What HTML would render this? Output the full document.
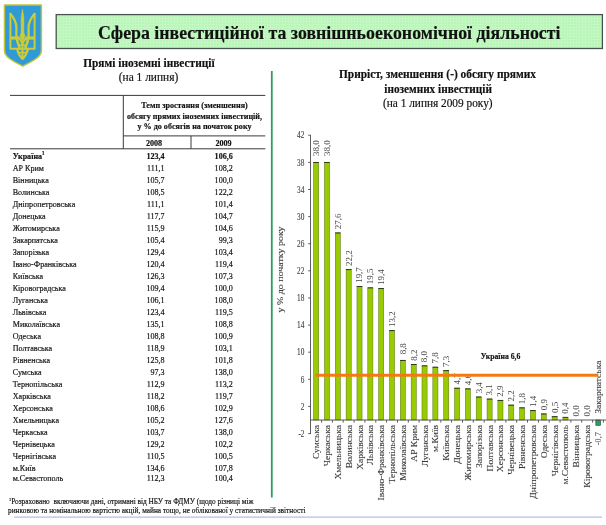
<!DOCTYPE html>
<html lang="uk"><head><meta charset="utf-8"><title>Сфера інвестиційної та зовнішньоекономічної діяльності</title>
<style>
html,body{margin:0;padding:0;background:#fff;}
body{width:606px;height:525px;overflow:hidden;position:relative;}
svg{position:absolute;left:0;top:0;display:block;filter:blur(0.35px);}
text{font-family:"Liberation Serif","DejaVu Serif",serif;fill:#111;stroke:#111;stroke-width:0.18px;}
.ch{stroke:#3c3c3c;stroke-width:0.12px;}
.vl{stroke:none;}
.b{font-weight:bold;}
.m{text-anchor:middle;}
.e{text-anchor:end;}
.t8{font-size:8.1px;}
.ch{fill:#3c3c3c;}
.vl{fill:#464646;}
</style></head><body>
<svg width="606" height="525" viewBox="0 0 606 525">
<defs>
<pattern id="grid" width="3" height="3" patternUnits="userSpaceOnUse"><rect width="3" height="3" fill="#b9f5b9"/><path d="M0 0.5H3M0.5 0V3" stroke="#c3f8c3" stroke-width="1"/></pattern>
<linearGradient id="bar" x1="0" x2="1" y1="0" y2="0"><stop offset="0" stop-color="#8fc400"/><stop offset="0.5" stop-color="#9fd200"/><stop offset="1" stop-color="#8cbf00"/></linearGradient>
</defs>
<g id="gerb">
<path d="M4.5 5 L41.4 5 L41.4 50.5 C41.4 56.5 35 60 22.8 66.2 C10.5 60 4.5 56.5 4.5 50.5 Z" fill="#2f9ad6" stroke="#c2c43c" stroke-width="1.5" stroke-linejoin="round"/>
<g fill="none" stroke="#cbcb38" stroke-width="2" stroke-linecap="round" stroke-linejoin="round">
<path d="M10.4 13.8 V48.8 H34.6 V13.8"/>
<path stroke-width="2.3" d="M10.6 14 C13 17 16.4 22 16.4 27 V37.5"/>
<path stroke-width="2.3" d="M34.4 14 C32 17 28.6 22 28.6 27 V37.5"/>
<path d="M10.4 38 H19.6" stroke-width="3.2" stroke-linecap="butt"/>
<path d="M34.6 38 H25.4" stroke-width="3.2" stroke-linecap="butt"/>
<path stroke-width="2.6" d="M17 39 C17.4 43 19.2 44.6 19.6 48.8"/>
<path stroke-width="2.6" d="M28 39 C27.6 43 25.8 44.6 25.4 48.8"/>
<path d="M19.4 38.4 L22.5 43.6 L25.6 38.4"/>
<path stroke-width="2.2" d="M17.2 49.2 C18 53.5 20.4 56.8 22.5 59 C24.6 56.8 27 53.5 27.8 49.2"/>
<path stroke-width="2" d="M22.5 42 V58.4"/>
<path stroke-width="1.8" d="M19.3 52.6 H25.7"/>
<path stroke-width="1.8" d="M19.4 46 C20.6 44.6 24.4 44.6 25.6 46"/>
</g>
<path d="M22.5 9 L23.9 17.5 V32.6 L25 36 L22.5 42 L20 36 L21.1 32.6 V17.5 Z" fill="#cbcb38" stroke="#cbcb38" stroke-width="0.5" stroke-linejoin="round"/>
</g>
<rect x="56.2" y="14.6" width="546.2" height="33.9" fill="url(#grid)" stroke="#46544c" stroke-width="1.3"/>
<text class="b" x="97.9" y="38.8" font-size="19.2" textLength="462.6" lengthAdjust="spacingAndGlyphs" fill="#000">Сфера інвестиційної та зовнішньоекономічної діяльності</text>
<text class="b" x="83.2" y="66.5" font-size="12" textLength="131.4" lengthAdjust="spacingAndGlyphs">Прямі іноземні інвестиції</text>
<text x="118.8" y="80.5" font-size="12" textLength="59.4" lengthAdjust="spacingAndGlyphs">(на 1 липня)</text>
<g stroke="#3a3a3a" stroke-width="1" fill="none">
<path d="M10 95.4H265.3"/>
<path d="M123.3 95.4V148.8"/>
<path d="M123.3 135.9H265.3"/>
<path d="M191 135.9V148.8"/>
<path d="M10 148.8H265.3"/>
</g>
<text class="b m" transform="translate(194.5 108.0) scale(0.947 1)" font-size="8.55">Темп зростання (зменшення)</text>
<text class="b m" transform="translate(194.5 118.6) scale(0.947 1)" font-size="8.55">обсягу прямих іноземних інвестицій,</text>
<text class="b m" transform="translate(194.5 129.2) scale(0.947 1)" font-size="8.55">у % до обсягів на початок року</text>
<text class="b" transform="translate(146 146) scale(0.947 1)" font-size="8.55">2008</text>
<text class="b" transform="translate(215.5 146) scale(0.947 1)" font-size="8.55">2009</text>
<text class="b" transform="translate(12.7 158.5) scale(0.947 1)" font-size="8.55">Україна<tspan font-size="5.2" dy="-3.5">1</tspan></text>
<text class="b e" transform="translate(164.6 158.5) scale(0.947 1)" font-size="8.55">123,4</text>
<text class="b e" transform="translate(232.8 158.5) scale(0.947 1)" font-size="8.55">106,6</text>
<text transform="translate(12.7 170.5) scale(0.947 1)" font-size="8.55">АР Крим</text>
<text class="e" transform="translate(164.6 170.5) scale(0.947 1)" font-size="8.55">111,1</text>
<text class="e" transform="translate(232.8 170.5) scale(0.947 1)" font-size="8.55">108,2</text>
<text transform="translate(12.7 182.5) scale(0.947 1)" font-size="8.55">Вінницька</text>
<text class="e" transform="translate(164.6 182.5) scale(0.947 1)" font-size="8.55">105,7</text>
<text class="e" transform="translate(232.8 182.5) scale(0.947 1)" font-size="8.55">100,0</text>
<text transform="translate(12.7 194.5) scale(0.947 1)" font-size="8.55">Волинська</text>
<text class="e" transform="translate(164.6 194.5) scale(0.947 1)" font-size="8.55">108,5</text>
<text class="e" transform="translate(232.8 194.5) scale(0.947 1)" font-size="8.55">122,2</text>
<text transform="translate(12.7 206.5) scale(0.947 1)" font-size="8.55">Дніпропетровська</text>
<text class="e" transform="translate(164.6 206.5) scale(0.947 1)" font-size="8.55">111,1</text>
<text class="e" transform="translate(232.8 206.5) scale(0.947 1)" font-size="8.55">101,4</text>
<text transform="translate(12.7 218.5) scale(0.947 1)" font-size="8.55">Донецька</text>
<text class="e" transform="translate(164.6 218.5) scale(0.947 1)" font-size="8.55">117,7</text>
<text class="e" transform="translate(232.8 218.5) scale(0.947 1)" font-size="8.55">104,7</text>
<text transform="translate(12.7 230.5) scale(0.947 1)" font-size="8.55">Житомирська</text>
<text class="e" transform="translate(164.6 230.5) scale(0.947 1)" font-size="8.55">115,9</text>
<text class="e" transform="translate(232.8 230.5) scale(0.947 1)" font-size="8.55">104,6</text>
<text transform="translate(12.7 242.5) scale(0.947 1)" font-size="8.55">Закарпатська</text>
<text class="e" transform="translate(164.6 242.5) scale(0.947 1)" font-size="8.55">105,4</text>
<text class="e" transform="translate(232.8 242.5) scale(0.947 1)" font-size="8.55">99,3</text>
<text transform="translate(12.7 254.5) scale(0.947 1)" font-size="8.55">Запорізька</text>
<text class="e" transform="translate(164.6 254.5) scale(0.947 1)" font-size="8.55">129,4</text>
<text class="e" transform="translate(232.8 254.5) scale(0.947 1)" font-size="8.55">103,4</text>
<text transform="translate(12.7 266.5) scale(0.947 1)" font-size="8.55">Івано-Франківська</text>
<text class="e" transform="translate(164.6 266.5) scale(0.947 1)" font-size="8.55">120,4</text>
<text class="e" transform="translate(232.8 266.5) scale(0.947 1)" font-size="8.55">119,4</text>
<text transform="translate(12.7 278.5) scale(0.947 1)" font-size="8.55">Київська</text>
<text class="e" transform="translate(164.6 278.5) scale(0.947 1)" font-size="8.55">126,3</text>
<text class="e" transform="translate(232.8 278.5) scale(0.947 1)" font-size="8.55">107,3</text>
<text transform="translate(12.7 290.5) scale(0.947 1)" font-size="8.55">Кіровоградська</text>
<text class="e" transform="translate(164.6 290.5) scale(0.947 1)" font-size="8.55">109,4</text>
<text class="e" transform="translate(232.8 290.5) scale(0.947 1)" font-size="8.55">100,0</text>
<text transform="translate(12.7 302.5) scale(0.947 1)" font-size="8.55">Луганська</text>
<text class="e" transform="translate(164.6 302.5) scale(0.947 1)" font-size="8.55">106,1</text>
<text class="e" transform="translate(232.8 302.5) scale(0.947 1)" font-size="8.55">108,0</text>
<text transform="translate(12.7 314.5) scale(0.947 1)" font-size="8.55">Львівська</text>
<text class="e" transform="translate(164.6 314.5) scale(0.947 1)" font-size="8.55">123,4</text>
<text class="e" transform="translate(232.8 314.5) scale(0.947 1)" font-size="8.55">119,5</text>
<text transform="translate(12.7 326.5) scale(0.947 1)" font-size="8.55">Миколаївська</text>
<text class="e" transform="translate(164.6 326.5) scale(0.947 1)" font-size="8.55">135,1</text>
<text class="e" transform="translate(232.8 326.5) scale(0.947 1)" font-size="8.55">108,8</text>
<text transform="translate(12.7 338.5) scale(0.947 1)" font-size="8.55">Одеська</text>
<text class="e" transform="translate(164.6 338.5) scale(0.947 1)" font-size="8.55">108,8</text>
<text class="e" transform="translate(232.8 338.5) scale(0.947 1)" font-size="8.55">100,9</text>
<text transform="translate(12.7 350.5) scale(0.947 1)" font-size="8.55">Полтавська</text>
<text class="e" transform="translate(164.6 350.5) scale(0.947 1)" font-size="8.55">118,9</text>
<text class="e" transform="translate(232.8 350.5) scale(0.947 1)" font-size="8.55">103,1</text>
<text transform="translate(12.7 362.5) scale(0.947 1)" font-size="8.55">Рівненська</text>
<text class="e" transform="translate(164.6 362.5) scale(0.947 1)" font-size="8.55">125,8</text>
<text class="e" transform="translate(232.8 362.5) scale(0.947 1)" font-size="8.55">101,8</text>
<text transform="translate(12.7 374.5) scale(0.947 1)" font-size="8.55">Сумська</text>
<text class="e" transform="translate(164.6 374.5) scale(0.947 1)" font-size="8.55">97,3</text>
<text class="e" transform="translate(232.8 374.5) scale(0.947 1)" font-size="8.55">138,0</text>
<text transform="translate(12.7 386.5) scale(0.947 1)" font-size="8.55">Тернопільська</text>
<text class="e" transform="translate(164.6 386.5) scale(0.947 1)" font-size="8.55">112,9</text>
<text class="e" transform="translate(232.8 386.5) scale(0.947 1)" font-size="8.55">113,2</text>
<text transform="translate(12.7 398.5) scale(0.947 1)" font-size="8.55">Харківська</text>
<text class="e" transform="translate(164.6 398.5) scale(0.947 1)" font-size="8.55">118,2</text>
<text class="e" transform="translate(232.8 398.5) scale(0.947 1)" font-size="8.55">119,7</text>
<text transform="translate(12.7 410.5) scale(0.947 1)" font-size="8.55">Херсонська</text>
<text class="e" transform="translate(164.6 410.5) scale(0.947 1)" font-size="8.55">108,6</text>
<text class="e" transform="translate(232.8 410.5) scale(0.947 1)" font-size="8.55">102,9</text>
<text transform="translate(12.7 422.5) scale(0.947 1)" font-size="8.55">Хмельницька</text>
<text class="e" transform="translate(164.6 422.5) scale(0.947 1)" font-size="8.55">105,2</text>
<text class="e" transform="translate(232.8 422.5) scale(0.947 1)" font-size="8.55">127,6</text>
<text transform="translate(12.7 434.5) scale(0.947 1)" font-size="8.55">Черкаська</text>
<text class="e" transform="translate(164.6 434.5) scale(0.947 1)" font-size="8.55">103,7</text>
<text class="e" transform="translate(232.8 434.5) scale(0.947 1)" font-size="8.55">138,0</text>
<text transform="translate(12.7 446.5) scale(0.947 1)" font-size="8.55">Чернівецька</text>
<text class="e" transform="translate(164.6 446.5) scale(0.947 1)" font-size="8.55">129,2</text>
<text class="e" transform="translate(232.8 446.5) scale(0.947 1)" font-size="8.55">102,2</text>
<text transform="translate(12.7 458.5) scale(0.947 1)" font-size="8.55">Чернігівська</text>
<text class="e" transform="translate(164.6 458.5) scale(0.947 1)" font-size="8.55">110,5</text>
<text class="e" transform="translate(232.8 458.5) scale(0.947 1)" font-size="8.55">100,5</text>
<text transform="translate(12.7 470.5) scale(0.947 1)" font-size="8.55">м.Київ</text>
<text class="e" transform="translate(164.6 470.5) scale(0.947 1)" font-size="8.55">134,6</text>
<text class="e" transform="translate(232.8 470.5) scale(0.947 1)" font-size="8.55">107,8</text>
<text transform="translate(12.7 480.5) scale(0.947 1)" font-size="8.55">м.Севастополь</text>
<text class="e" transform="translate(164.6 481.3) scale(0.947 1)" font-size="8.55">112,3</text>
<text class="e" transform="translate(232.8 481.3) scale(0.947 1)" font-size="8.55">100,4</text>
<path d="M271.8 71V497.5" stroke="#2e9e5e" stroke-width="1.8"/>
<text transform="translate(9 503.5) scale(0.947 1)" font-size="7.75"><tspan font-size="4.6" dy="-2.8">1</tspan><tspan dy="2.8">Розраховано&#160;&#160;включаючи дані, отримані від НБУ та ФДМУ (щодо різниці між</tspan></text>
<text x="8" y="513" font-size="7.75" textLength="297.6" lengthAdjust="spacingAndGlyphs">ринковою та номінальною вартістю акцій, майна тощо, не облікованої у статистичній звітності</text>
<path d="M14 517.1H602" stroke="#a9a9e6" stroke-width="1"/>
<text class="b" x="339" y="77.5" font-size="12" textLength="197" lengthAdjust="spacingAndGlyphs">Приріст, зменшення (-) обсягу прямих</text>
<text class="b" x="384.3" y="92.9" font-size="12" textLength="107.6" lengthAdjust="spacingAndGlyphs">іноземних інвестицій</text>
<text x="383" y="107.4" font-size="12" textLength="109.6" lengthAdjust="spacingAndGlyphs">(на 1 липня 2009 року)</text>
<rect x="313.60" y="162.36" width="5.1" height="257.64" fill="#99cc00" stroke="#55701a" stroke-width="0.5"/>
<path d="M313.40 162.46h5.50" stroke="#2f3a1c" stroke-width="1"/>
<rect x="324.44" y="162.36" width="5.1" height="257.64" fill="#99cc00" stroke="#55701a" stroke-width="0.5"/>
<path d="M324.24 162.46h5.50" stroke="#2f3a1c" stroke-width="1"/>
<rect x="335.28" y="232.87" width="5.1" height="187.13" fill="#99cc00" stroke="#55701a" stroke-width="0.5"/>
<path d="M335.08 232.97h5.50" stroke="#2f3a1c" stroke-width="1"/>
<rect x="346.12" y="269.48" width="5.1" height="150.52" fill="#99cc00" stroke="#55701a" stroke-width="0.5"/>
<path d="M345.92 269.58h5.50" stroke="#2f3a1c" stroke-width="1"/>
<rect x="356.96" y="286.43" width="5.1" height="133.57" fill="#99cc00" stroke="#55701a" stroke-width="0.5"/>
<path d="M356.76 286.53h5.50" stroke="#2f3a1c" stroke-width="1"/>
<rect x="367.80" y="287.79" width="5.1" height="132.21" fill="#99cc00" stroke="#55701a" stroke-width="0.5"/>
<path d="M367.60 287.89h5.50" stroke="#2f3a1c" stroke-width="1"/>
<rect x="378.64" y="288.47" width="5.1" height="131.53" fill="#99cc00" stroke="#55701a" stroke-width="0.5"/>
<path d="M378.44 288.57h5.50" stroke="#2f3a1c" stroke-width="1"/>
<rect x="389.48" y="330.50" width="5.1" height="89.50" fill="#99cc00" stroke="#55701a" stroke-width="0.5"/>
<path d="M389.28 330.60h5.50" stroke="#2f3a1c" stroke-width="1"/>
<rect x="400.32" y="360.34" width="5.1" height="59.66" fill="#99cc00" stroke="#55701a" stroke-width="0.5"/>
<path d="M400.12 360.44h5.50" stroke="#2f3a1c" stroke-width="1"/>
<rect x="411.16" y="364.40" width="5.1" height="55.60" fill="#99cc00" stroke="#55701a" stroke-width="0.5"/>
<path d="M410.96 364.50h5.50" stroke="#2f3a1c" stroke-width="1"/>
<rect x="422.00" y="365.76" width="5.1" height="54.24" fill="#99cc00" stroke="#55701a" stroke-width="0.5"/>
<path d="M421.80 365.86h5.50" stroke="#2f3a1c" stroke-width="1"/>
<rect x="432.84" y="367.12" width="5.1" height="52.88" fill="#99cc00" stroke="#55701a" stroke-width="0.5"/>
<path d="M432.64 367.22h5.50" stroke="#2f3a1c" stroke-width="1"/>
<rect x="443.68" y="370.51" width="5.1" height="49.49" fill="#99cc00" stroke="#55701a" stroke-width="0.5"/>
<path d="M443.48 370.61h5.50" stroke="#2f3a1c" stroke-width="1"/>
<rect x="454.52" y="388.13" width="5.1" height="31.87" fill="#99cc00" stroke="#55701a" stroke-width="0.5"/>
<path d="M454.32 388.23h5.50" stroke="#2f3a1c" stroke-width="1"/>
<rect x="465.36" y="388.81" width="5.1" height="31.19" fill="#99cc00" stroke="#55701a" stroke-width="0.5"/>
<path d="M465.16 388.91h5.50" stroke="#2f3a1c" stroke-width="1"/>
<rect x="476.20" y="396.95" width="5.1" height="23.05" fill="#99cc00" stroke="#55701a" stroke-width="0.5"/>
<path d="M476.00 397.05h5.50" stroke="#2f3a1c" stroke-width="1"/>
<rect x="487.04" y="398.98" width="5.1" height="21.02" fill="#99cc00" stroke="#55701a" stroke-width="0.5"/>
<path d="M486.84 399.08h5.50" stroke="#2f3a1c" stroke-width="1"/>
<rect x="497.88" y="400.34" width="5.1" height="19.66" fill="#99cc00" stroke="#55701a" stroke-width="0.5"/>
<path d="M497.68 400.44h5.50" stroke="#2f3a1c" stroke-width="1"/>
<rect x="508.72" y="405.08" width="5.1" height="14.92" fill="#99cc00" stroke="#55701a" stroke-width="0.5"/>
<path d="M508.52 405.18h5.50" stroke="#2f3a1c" stroke-width="1"/>
<rect x="519.56" y="407.80" width="5.1" height="12.20" fill="#99cc00" stroke="#55701a" stroke-width="0.5"/>
<path d="M519.36 407.90h5.50" stroke="#2f3a1c" stroke-width="1"/>
<rect x="530.40" y="410.51" width="5.1" height="9.49" fill="#99cc00" stroke="#55701a" stroke-width="0.5"/>
<path d="M530.20 410.61h5.50" stroke="#2f3a1c" stroke-width="1"/>
<rect x="541.24" y="413.90" width="5.1" height="6.10" fill="#99cc00" stroke="#55701a" stroke-width="0.5"/>
<path d="M541.04 414.00h5.50" stroke="#2f3a1c" stroke-width="1"/>
<rect x="552.08" y="416.61" width="5.1" height="3.39" fill="#99cc00" stroke="#55701a" stroke-width="0.5"/>
<path d="M551.88 416.71h5.50" stroke="#2f3a1c" stroke-width="1"/>
<rect x="562.92" y="417.29" width="5.1" height="2.71" fill="#99cc00" stroke="#55701a" stroke-width="0.5"/>
<path d="M562.72 417.39h5.50" stroke="#2f3a1c" stroke-width="1"/>
<rect x="595.84" y="420.00" width="4.699999999999999" height="5.35" fill="#339966" stroke="#1e4a36" stroke-width="0.6"/>
<g stroke="#4a4a4a" stroke-width="0.9" fill="none">
<path d="M310.5 135V434"/>
<path d="M310.5 420.0H606"/>
<path d="M308.2 433.6H310.5"/>
<path d="M308.2 406.4H310.5"/>
<path d="M308.2 379.3H310.5"/>
<path d="M308.2 352.2H310.5"/>
<path d="M308.2 325.1H310.5"/>
<path d="M308.2 298.0H310.5"/>
<path d="M308.2 270.8H310.5"/>
<path d="M308.2 243.7H310.5"/>
<path d="M308.2 216.6H310.5"/>
<path d="M308.2 189.5H310.5"/>
<path d="M308.2 162.4H310.5"/>
<path d="M308.2 135.2H310.5"/>
<path d="M321.6 420.0V422.6"/>
<path d="M332.4 420.0V422.6"/>
<path d="M343.2 420.0V422.6"/>
<path d="M354.1 420.0V422.6"/>
<path d="M364.9 420.0V422.6"/>
<path d="M375.8 420.0V422.6"/>
<path d="M386.6 420.0V422.6"/>
<path d="M397.5 420.0V422.6"/>
<path d="M408.3 420.0V422.6"/>
<path d="M419.1 420.0V422.6"/>
<path d="M430.0 420.0V422.6"/>
<path d="M440.8 420.0V422.6"/>
<path d="M451.6 420.0V422.6"/>
<path d="M462.5 420.0V422.6"/>
<path d="M473.3 420.0V422.6"/>
<path d="M484.2 420.0V422.6"/>
<path d="M495.0 420.0V422.6"/>
<path d="M505.9 420.0V422.6"/>
<path d="M516.7 420.0V422.6"/>
<path d="M527.5 420.0V422.6"/>
<path d="M538.4 420.0V422.6"/>
<path d="M549.2 420.0V422.6"/>
<path d="M560.1 420.0V422.6"/>
<path d="M570.9 420.0V422.6"/>
<path d="M581.7 420.0V422.6"/>
<path d="M592.6 420.0V422.6"/>
<path d="M603.4 420.0V422.6"/>
</g>
<text class="e ch" x="304.4" y="436.8" font-size="9.6" textLength="5.9" lengthAdjust="spacingAndGlyphs">-2</text>
<text class="e ch" x="304.4" y="409.6" font-size="9.6" textLength="3.6" lengthAdjust="spacingAndGlyphs">2</text>
<text class="e ch" x="304.4" y="382.5" font-size="9.6" textLength="3.6" lengthAdjust="spacingAndGlyphs">6</text>
<text class="e ch" x="304.4" y="355.4" font-size="9.6" textLength="7.3" lengthAdjust="spacingAndGlyphs">10</text>
<text class="e ch" x="304.4" y="328.3" font-size="9.6" textLength="7.3" lengthAdjust="spacingAndGlyphs">14</text>
<text class="e ch" x="304.4" y="301.2" font-size="9.6" textLength="7.3" lengthAdjust="spacingAndGlyphs">18</text>
<text class="e ch" x="304.4" y="274.0" font-size="9.6" textLength="7.3" lengthAdjust="spacingAndGlyphs">22</text>
<text class="e ch" x="304.4" y="246.9" font-size="9.6" textLength="7.3" lengthAdjust="spacingAndGlyphs">26</text>
<text class="e ch" x="304.4" y="219.8" font-size="9.6" textLength="7.3" lengthAdjust="spacingAndGlyphs">30</text>
<text class="e ch" x="304.4" y="192.7" font-size="9.6" textLength="7.3" lengthAdjust="spacingAndGlyphs">34</text>
<text class="e ch" x="304.4" y="165.6" font-size="9.6" textLength="7.3" lengthAdjust="spacingAndGlyphs">38</text>
<text class="e ch" x="304.4" y="138.4" font-size="9.6" textLength="7.3" lengthAdjust="spacingAndGlyphs">42</text>
<text class="m ch" transform="translate(283.2 269.4) rotate(-90)" font-size="7.6" textLength="86" lengthAdjust="spacingAndGlyphs">у % до початку року</text>
<text class="vl" transform="translate(319.05 155.96) rotate(-90) scale(1.12 1)" font-size="8">38,0</text>
<text class="vl" transform="translate(329.89 155.96) rotate(-90) scale(1.12 1)" font-size="8">38,0</text>
<text class="vl" transform="translate(340.73 229.27) rotate(-90) scale(1.12 1)" font-size="8">27,6</text>
<text class="vl" transform="translate(351.57 265.88) rotate(-90) scale(1.12 1)" font-size="8">22,2</text>
<text class="vl" transform="translate(362.41 282.83) rotate(-90) scale(1.12 1)" font-size="8">19,7</text>
<text class="vl" transform="translate(373.25 284.19) rotate(-90) scale(1.12 1)" font-size="8">19,5</text>
<text class="vl" transform="translate(384.09 284.87) rotate(-90) scale(1.12 1)" font-size="8">19,4</text>
<text class="vl" transform="translate(394.93 326.90) rotate(-90) scale(1.12 1)" font-size="8">13,2</text>
<text class="vl" transform="translate(405.77 354.34) rotate(-90) scale(1.12 1)" font-size="8">8,8</text>
<text class="vl" transform="translate(416.61 360.80) rotate(-90) scale(1.12 1)" font-size="8">8,2</text>
<text class="vl" transform="translate(427.45 362.16) rotate(-90) scale(1.12 1)" font-size="8">8,0</text>
<text class="vl" transform="translate(438.29 363.52) rotate(-90) scale(1.12 1)" font-size="8">7,8</text>
<text class="vl" transform="translate(449.13 366.91) rotate(-90) scale(1.12 1)" font-size="8">7,3</text>
<text class="vl" transform="translate(459.97 384.53) rotate(-90) scale(1.12 1)" font-size="8">4,7</text>
<text class="vl" transform="translate(470.81 385.21) rotate(-90) scale(1.12 1)" font-size="8">4,6</text>
<text class="vl" transform="translate(481.65 393.35) rotate(-90) scale(1.12 1)" font-size="8">3,4</text>
<text class="vl" transform="translate(492.49 395.38) rotate(-90) scale(1.12 1)" font-size="8">3,1</text>
<text class="vl" transform="translate(503.33 396.74) rotate(-90) scale(1.12 1)" font-size="8">2,9</text>
<text class="vl" transform="translate(514.17 401.48) rotate(-90) scale(1.12 1)" font-size="8">2,2</text>
<text class="vl" transform="translate(525.01 404.20) rotate(-90) scale(1.12 1)" font-size="8">1,8</text>
<text class="vl" transform="translate(535.85 406.91) rotate(-90) scale(1.12 1)" font-size="8">1,4</text>
<text class="vl" transform="translate(546.69 410.30) rotate(-90) scale(1.12 1)" font-size="8">0,9</text>
<text class="vl" transform="translate(557.53 413.01) rotate(-90) scale(1.12 1)" font-size="8">0,5</text>
<text class="vl" transform="translate(568.37 413.69) rotate(-90) scale(1.12 1)" font-size="8">0,4</text>
<text class="vl" transform="translate(579.21 416.40) rotate(-90) scale(1.12 1)" font-size="8">0,0</text>
<text class="vl" transform="translate(590.05 416.40) rotate(-90) scale(1.12 1)" font-size="8">0,0</text>
<text class="vl e" transform="translate(600.69 432.15) rotate(-90) scale(1.12 1)" font-size="7.4">-0,7</text>
<text class="ch e" transform="translate(319.15 424.9) rotate(-90) scale(1.085 1)" font-size="8.8">Сумська</text>
<text class="ch e" transform="translate(329.99 424.9) rotate(-90) scale(1.085 1)" font-size="8.8">Черкаська</text>
<text class="ch e" transform="translate(340.83 424.9) rotate(-90) scale(1.085 1)" font-size="8.8">Хмельницька</text>
<text class="ch e" transform="translate(351.67 424.9) rotate(-90) scale(1.085 1)" font-size="8.8">Волинська</text>
<text class="ch e" transform="translate(362.51 424.9) rotate(-90) scale(1.085 1)" font-size="8.8">Харківська</text>
<text class="ch e" transform="translate(373.35 424.9) rotate(-90) scale(1.085 1)" font-size="8.8">Львівська</text>
<text class="ch e" transform="translate(384.19 424.9) rotate(-90) scale(1.085 1)" font-size="8.8">Івано-Франківська</text>
<text class="ch e" transform="translate(395.03 424.9) rotate(-90) scale(1.085 1)" font-size="8.8">Тернопільська</text>
<text class="ch e" transform="translate(405.87 424.9) rotate(-90) scale(1.085 1)" font-size="8.8">Миколаївська</text>
<text class="ch e" transform="translate(416.71 424.9) rotate(-90) scale(1.085 1)" font-size="8.8">АР Крим</text>
<text class="ch e" transform="translate(427.55 424.9) rotate(-90) scale(1.085 1)" font-size="8.8">Луганська</text>
<text class="ch e" transform="translate(438.39 424.9) rotate(-90) scale(1.085 1)" font-size="8.8">м.Київ</text>
<text class="ch e" transform="translate(449.23 424.9) rotate(-90) scale(1.085 1)" font-size="8.8">Київська</text>
<text class="ch e" transform="translate(460.07 424.9) rotate(-90) scale(1.085 1)" font-size="8.8">Донецька</text>
<text class="ch e" transform="translate(470.91 424.9) rotate(-90) scale(1.085 1)" font-size="8.8">Житомирська</text>
<text class="ch e" transform="translate(481.75 424.9) rotate(-90) scale(1.085 1)" font-size="8.8">Запорізька</text>
<text class="ch e" transform="translate(492.59 424.9) rotate(-90) scale(1.085 1)" font-size="8.8">Полтавська</text>
<text class="ch e" transform="translate(503.43 424.9) rotate(-90) scale(1.085 1)" font-size="8.8">Херсонська</text>
<text class="ch e" transform="translate(514.27 424.9) rotate(-90) scale(1.085 1)" font-size="8.8">Чернівецька</text>
<text class="ch e" transform="translate(525.11 424.9) rotate(-90) scale(1.085 1)" font-size="8.8">Рівненська</text>
<text class="ch e" transform="translate(535.95 424.9) rotate(-90) scale(1.085 1)" font-size="8.8">Дніпропетровська</text>
<text class="ch e" transform="translate(546.79 424.9) rotate(-90) scale(1.085 1)" font-size="8.8">Одеська</text>
<text class="ch e" transform="translate(557.63 424.9) rotate(-90) scale(1.085 1)" font-size="8.8">Чернігівська</text>
<text class="ch e" transform="translate(568.47 424.9) rotate(-90) scale(1.085 1)" font-size="8.8">м.Севастополь</text>
<text class="ch e" transform="translate(579.31 424.9) rotate(-90) scale(1.085 1)" font-size="8.8">Вінницька</text>
<text class="ch e" transform="translate(590.15 424.9) rotate(-90) scale(1.085 1)" font-size="8.8">Кіровоградська</text>
<text class="ch" transform="translate(601.19 413.8) rotate(-90) scale(1.085 1)" font-size="8.8">Закарпатська</text>
<path d="M315.3 375.25H598.3" stroke="#f17a12" stroke-width="2.8"/>
<text class="b" x="480.7" y="359" font-size="8.4" textLength="39.7" lengthAdjust="spacingAndGlyphs">Україна 6,6</text>
</svg></body></html>
